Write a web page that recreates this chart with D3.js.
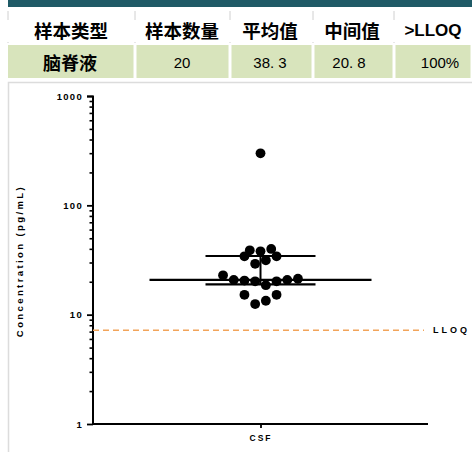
<!DOCTYPE html>
<html>
<head>
<meta charset="utf-8">
<script src="https://cdn.jsdelivr.net/npm/d3@7"></script>
<style>
  html, body { margin: 0; padding: 0; background: #fff; }
  svg { display: block; }
</style>
</head>
<body>
<div id="chart"></div>
<script>
// table contents
const headers = ["样本类型", "样本数量", "平均值", "中间值", ">LLOQ"];
const rowValues = ["脑脊液", "20", "38. 3", "20. 8", "100%"];

// scatter data (pg/mL) and beeswarm slot of each point
const concentrations = [38.8, 38.0, 39.9, 34.2, 34.2, 31.4, 29.2, 22.9, 20.8, 20.5,
  20.2, 18.6, 20.2, 20.8, 21.3, 15.2, 15.2, 12.5, 13.4, 299];
const slots = [-1, 0, 1, -1.5, 1.5, 0.5, -0.5, -3.5, -2.5, -1.5,
  -0.5, 0.5, 1.5, 2.5, 3.5, -1.5, 1.5, -0.5, 0.5, 0];
const categories = ["CSF"];
const medianValue = 20.8;
const iqr = [18.9, 34.4];
const lloq = 7.2;
const yTicks = [1, 10, 100, 1000];

const W = 472, H = 452;
const svg = d3.select("#chart").append("svg")
  .attr("width", W).attr("height", H);

// top banner
svg.append("rect").attr("x", 8).attr("y", 0).attr("width", W - 8).attr("height", 7)
  .attr("fill", "#1f5a66");

// table
const colEdges = [8, 135, 230, 313, 394, 472];
const textCenters = [71, 182, 270, 352, 433];
const cellGap = 3;

svg.selectAll("line.sep")
  .data(colEdges.slice(0, 5))
  .enter().append("line")
  .attr("class", "sep")
  .attr("x1", d => d).attr("x2", d => d)
  .attr("y1", 11).attr("y2", 43)
  .attr("stroke", "#d0d0d0").attr("stroke-width", 1)
  .attr("stroke-dasharray", "9,22");

svg.selectAll("text.head")
  .data(headers)
  .enter().append("text")
  .attr("class", "head")
  .attr("x", (d, i) => textCenters[i])
  .attr("y", 30)
  .attr("text-anchor", "middle")
  .attr("dominant-baseline", "central")
  .style("font-family", (d, i) => i === 4 ? "'Liberation Sans', Arial, sans-serif" : "'Noto Sans CJK SC', sans-serif")
  .style("font-weight", "bold")
  .style("font-size", (d, i) => i === 4 ? "17px" : "18.5px")
  .text(d => d);

svg.selectAll("rect.cell")
  .data(rowValues)
  .enter().append("rect")
  .attr("class", "cell")
  .attr("x", (d, i) => colEdges[i] + (i === 0 ? 0 : cellGap / 2))
  .attr("y", 45)
  .attr("width", (d, i) => colEdges[i + 1] - colEdges[i] - (i === 0 ? cellGap / 2 : cellGap))
  .attr("height", 33)
  .attr("fill", "#d8e4bc");

svg.selectAll("text.val")
  .data(rowValues)
  .enter().append("text")
  .attr("class", "val")
  .attr("x", (d, i) => [70, 182, 270, 349, 440][i])
  .attr("y", 62)
  .attr("text-anchor", "middle")
  .attr("dominant-baseline", "central")
  .style("font-family", (d, i) => i === 0 ? "'Noto Sans CJK SC', sans-serif" : "'Liberation Sans', Arial, sans-serif")
  .style("font-weight", (d, i) => i === 0 ? "bold" : "normal")
  .style("font-size", (d, i) => i === 0 ? "18px" : "15px")
  .text(d => d);

// chart frame
svg.append("path")
  .attr("d", `M8.5,${H} V82.5 H${W}`)
  .attr("fill", "none").attr("stroke", "#dcdcdc").attr("stroke-width", 1.5);

// scales
const y = d3.scaleLog().domain([1, 1000]).range([424, 96]);
const x = d3.scalePoint().domain(categories).range([93, 428]).padding(0.5);
const dotStep = 10.7;

const font = "'Liberation Sans', Arial, sans-serif";

// y axis with minor ticks
const minor = y.ticks().filter(t => !yTicks.includes(t));
svg.append("g")
  .attr("transform", "translate(93,0)")
  .call(d3.axisLeft(y).tickValues(minor).tickSize(3.5).tickFormat(""))
  .call(g => g.select(".domain").remove())
  .selectAll("line").attr("stroke-width", 1.6);

const yAxis = svg.append("g")
  .attr("transform", "translate(93,0)")
  .call(d3.axisLeft(y).tickValues(yTicks).tickSize(6).tickPadding(4).tickFormat(d3.format("d")));
yAxis.select(".domain").attr("stroke-width", 2).attr("d", `M-6,96.5H0V424`);
yAxis.selectAll("line").attr("stroke-width", 1.8);
yAxis.selectAll("text")
  .style("font-family", font).style("font-weight", "bold")
  .style("font-size", "9.5px").style("letter-spacing", "1.3px");

// x axis
const xAxis = svg.append("g")
  .attr("transform", "translate(0,424)")
  .call(d3.axisBottom(x).tickSize(4).tickPadding(7).tickSizeOuter(0));
xAxis.select(".domain").attr("stroke-width", 2).attr("d", "M92,0H428");
xAxis.selectAll("line").attr("stroke-width", 1.8);
xAxis.selectAll("text")
  .style("font-family", font).style("font-weight", "bold")
  .style("font-size", "8.5px").style("letter-spacing", "2px");

// y label
svg.append("text")
  .attr("transform", `translate(23,261) rotate(-90)`)
  .attr("text-anchor", "middle")
  .style("font-family", font).style("font-weight", "bold")
  .style("font-size", "9.5px").style("letter-spacing", "2.4px")
  .text("Concentration (pg/mL)");

// LLOQ
svg.append("line")
  .attr("x1", 93).attr("x2", 424)
  .attr("y1", y(lloq)).attr("y2", y(lloq))
  .attr("stroke", "#f2a45a").attr("stroke-width", 1.6)
  .attr("stroke-dasharray", "6,4");
svg.append("text")
  .attr("x", 433).attr("y", y(lloq))
  .attr("dominant-baseline", "central")
  .style("font-family", font).style("font-weight", "bold")
  .style("font-size", "9px").style("letter-spacing", "3px")
  .text("LLOQ");

// points
const cx = x("CSF");
svg.selectAll("circle.pt")
  .data(concentrations)
  .enter().append("circle")
  .attr("class", "pt")
  .attr("cx", (d, i) => cx + slots[i] * dotStep)
  .attr("cy", d => y(d))
  .attr("r", 4.9)
  .attr("fill", "#000");

// median and interquartile range
svg.append("line")
  .attr("x1", cx - 111).attr("x2", cx + 111)
  .attr("y1", y(medianValue)).attr("y2", y(medianValue))
  .attr("stroke", "#000").attr("stroke-width", 2.4);
svg.selectAll("line.cap")
  .data(iqr)
  .enter().append("line")
  .attr("class", "cap")
  .attr("x1", cx - 55).attr("x2", cx + 55)
  .attr("y1", d => y(d)).attr("y2", d => y(d))
  .attr("stroke", "#000").attr("stroke-width", 2.2);
svg.append("line")
  .attr("x1", cx).attr("x2", cx)
  .attr("y1", y(iqr[1])).attr("y2", y(iqr[0]))
  .attr("stroke", "#000").attr("stroke-width", 2);
</script>
</body>
</html>
